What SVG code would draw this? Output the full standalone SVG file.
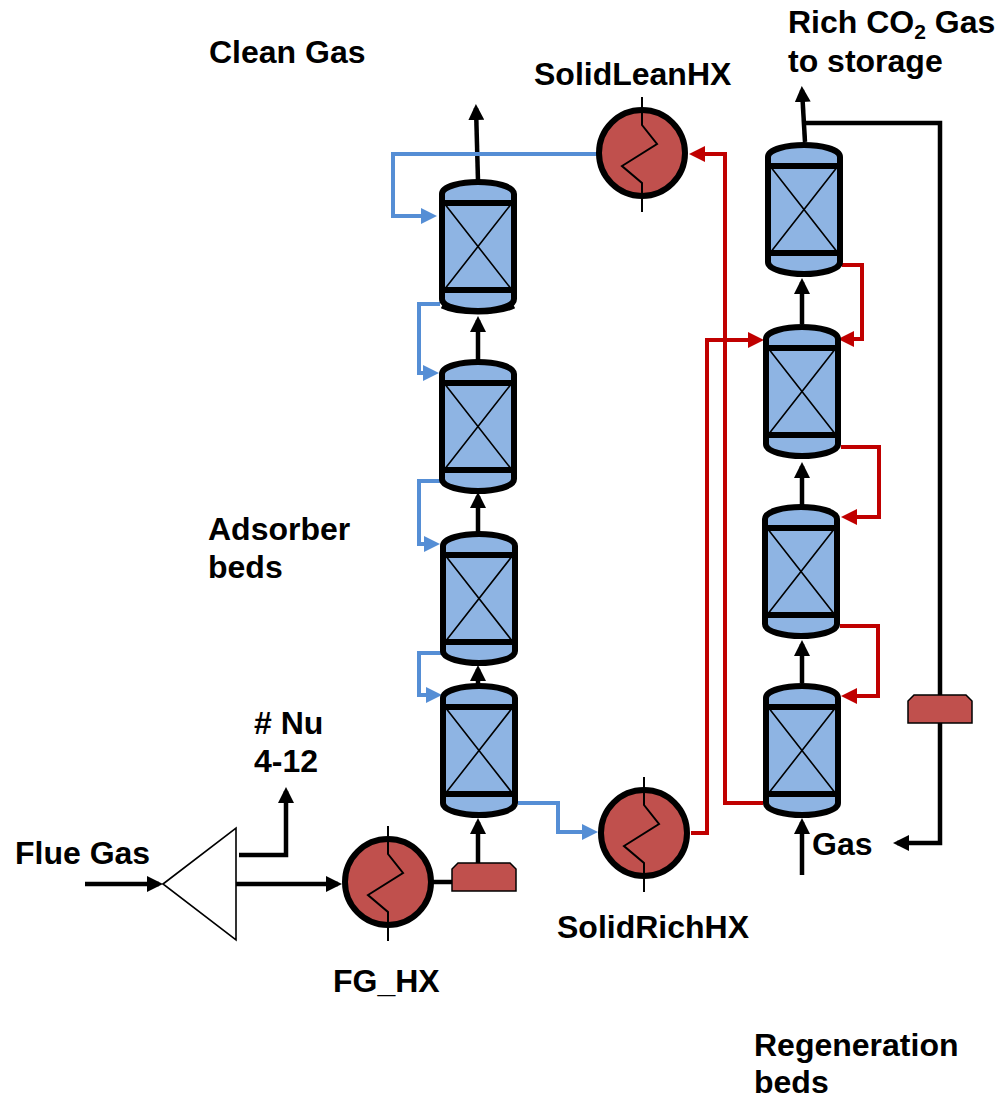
<svg xmlns="http://www.w3.org/2000/svg" xmlns:xlink="http://www.w3.org/1999/xlink" width="1000" height="1095" viewBox="0 0 1000 1095">
<style>
.t{font-family:"Liberation Sans",Arial,sans-serif;font-weight:700;font-size:32px;fill:#000}
.k,.b,.r{fill:none;stroke-linejoin:miter}
.k{stroke:#000;stroke-width:4.5}
.b{stroke:#558ED5;stroke-width:4}
.r{stroke:#C00000;stroke-width:4}
.ves{fill:#8EB4E3;stroke:#000;stroke-width:6}
.tray{stroke:#000;stroke-width:6;fill:none}
.x{stroke:#000;stroke-width:1.6;fill:none}
.hxc{fill:#C0504D;stroke:#000;stroke-width:6}
.zig{fill:none;stroke:#000;stroke-width:2}
.heat{fill:#C0504D;stroke:#000;stroke-width:1.5}
</style>
<defs>
<marker id="ak" markerUnits="userSpaceOnUse" markerWidth="16" markerHeight="16" viewBox="0 0 16 16" refX="12" refY="8" orient="auto"><path d="M0,0L16,8L0,16Z" fill="#000"/></marker>
<marker id="ab" markerUnits="userSpaceOnUse" markerWidth="16" markerHeight="16" viewBox="0 0 16 16" refX="12" refY="8" orient="auto"><path d="M0,0L16,8L0,16Z" fill="#558ED5"/></marker>
<marker id="ar" markerUnits="userSpaceOnUse" markerWidth="16" markerHeight="16" viewBox="0 0 16 16" refX="12" refY="8" orient="auto"><path d="M0,0L16,8L0,16Z" fill="#C00000"/></marker>
<g id="bed">
<path class="ves" d="M-36,15C-36,7-16,3,0,3C16,3,36,7,36,15V120C36,128,16,132,0,132C-16,132-36,128-36,120Z"/>
<path class="tray" d="M-38,24H38M-38,111H38"/>
<path class="x" d="M-34,24L34,111M34,24L-34,111"/>
</g>
<g id="hx">
<circle class="hxc" r="43"/>
<path class="zig" d="M0,-56V-28L15,-9L-20,13L0,30V59"/>
</g>
<path id="heater" class="heat" d="M0,28V6L6,0H58L64,6V28Z"/>
</defs>
<g id="connectors">
<path class="k" d="M85,884H159" marker-end="url(#ak)"/>
<path class="k" d="M236,884H338" marker-end="url(#ak)"/>
<path class="k" d="M239,855H286V791" marker-end="url(#ak)"/>
<path class="k" d="M433,882H452"/>
<path class="k" d="M478,863V822" marker-end="url(#ak)"/>
<path class="k" d="M478,684V669" marker-end="url(#ak)"/>
<path class="k" d="M478,533V496" marker-end="url(#ak)"/>
<path class="k" d="M478,362V320" marker-end="url(#ak)"/>
<path class="k" d="M478,181L476,108" marker-end="url(#ak)"/>
<path class="k" d="M802,875V822" marker-end="url(#ak)"/>
<path class="k" d="M802,683V644" marker-end="url(#ak)"/>
<path class="k" d="M802,505V466" marker-end="url(#ak)"/>
<path class="k" d="M802,324V282" marker-end="url(#ak)"/>
<path class="k" d="M805,142L802,90" marker-end="url(#ak)"/>
<path class="k" d="M802,123H940V843H897" marker-end="url(#ak)"/>
<path class="b" d="M597,154H393V216H433" marker-end="url(#ab)"/>
<path class="b" d="M440,304H419V373H435" marker-end="url(#ab)"/>
<path class="b" d="M440,481H419V544H436" marker-end="url(#ab)"/>
<path class="b" d="M441,653H419V695H438" marker-end="url(#ab)"/>
<path class="b" d="M518,803H558V832H594" marker-end="url(#ab)"/>
<path class="r" d="M691,833H707V340H760" marker-end="url(#ar)"/>
<path class="r" d="M763,803H725V154H693" marker-end="url(#ar)"/>
<path class="r" d="M842,265H862V339H842" marker-end="url(#ar)"/>
<path class="r" d="M841,447H879V517H845" marker-end="url(#ar)"/>
<path class="r" d="M840,626H878V696H845" marker-end="url(#ar)"/>
</g>
<g id="splitter"><path d="M163,884L236,828V940Z" fill="#fff" stroke="#000" stroke-width="1.6"/></g>
<g id="adsorber1"><use xlink:href="#bed" href="#bed" transform="translate(478,179)"/><path d="M-36,125C-20,133,20,133,36,125" transform="translate(478,181)" fill="none" stroke="#000" stroke-width="5"/></g>
<g id="adsorber2"><use xlink:href="#bed" href="#bed" transform="translate(478,359)"/></g>
<g id="adsorber3"><use xlink:href="#bed" href="#bed" transform="translate(479,531)"/></g>
<g id="adsorber4"><use xlink:href="#bed" href="#bed" transform="translate(479,683)"/></g>
<g id="regen1"><use xlink:href="#bed" href="#bed" transform="translate(804,142)"/></g>
<g id="regen2"><use xlink:href="#bed" href="#bed" transform="translate(802,324)"/></g>
<g id="regen3"><use xlink:href="#bed" href="#bed" transform="translate(801,504)"/></g>
<g id="regen4"><use xlink:href="#bed" href="#bed" transform="translate(802,683)"/></g>
<g id="SolidLeanHX"><use xlink:href="#hx" href="#hx" transform="translate(642,153)"/></g>
<g id="SolidRichHX"><use xlink:href="#hx" href="#hx" transform="translate(644,833)"/></g>
<g id="FG_HX"><use xlink:href="#hx" href="#hx" transform="translate(388,882)"/></g>
<g id="heater1"><use xlink:href="#heater" href="#heater" transform="translate(452,863)"/></g>
<g id="heater2"><use xlink:href="#heater" href="#heater" transform="translate(908,695)"/></g>
<g id="labels">
<text class="t" x="209" y="63">Clean Gas</text>
<text class="t" x="534" y="85">SolidLeanHX</text>
<text class="t" x="788" y="33">Rich CO<tspan font-size="21" dy="6">2</tspan><tspan dy="-6"> Gas</tspan></text>
<text class="t" x="788" y="72">to storage</text>
<text class="t" x="208" y="540">Adsorber</text>
<text class="t" x="208" y="578">beds</text>
<text class="t" x="254" y="734"># Nu</text>
<text class="t" x="254" y="772">4-12</text>
<text class="t" x="15" y="864">Flue Gas</text>
<text class="t" x="812" y="855">Gas</text>
<text class="t" x="557" y="938">SolidRichHX</text>
<text class="t" x="333" y="992">FG_HX</text>
<text class="t" x="754" y="1056">Regeneration</text>
<text class="t" x="754" y="1093">beds</text>
</g>
</svg>
